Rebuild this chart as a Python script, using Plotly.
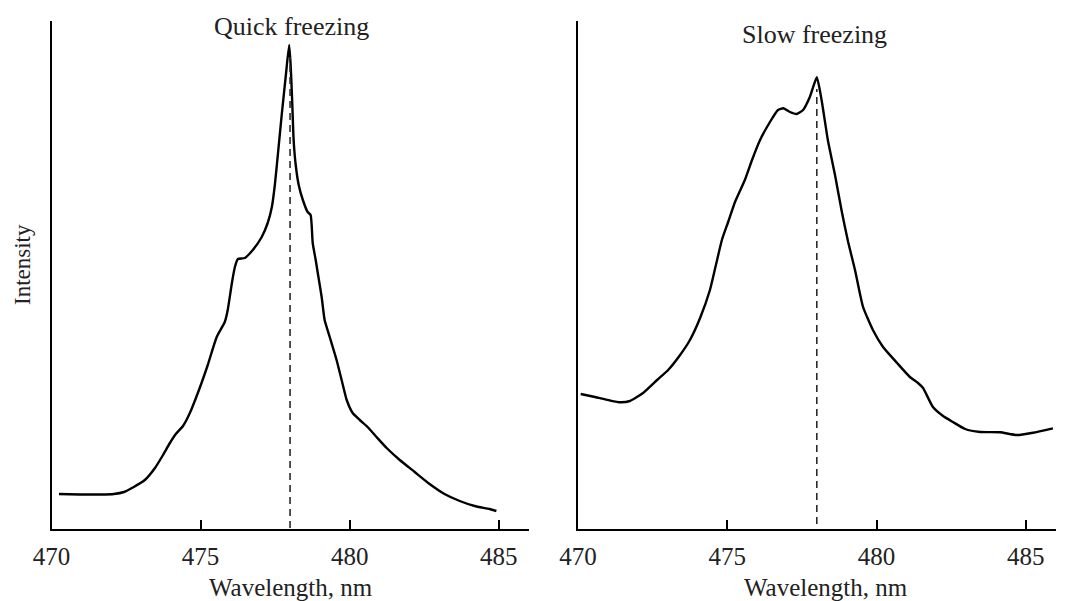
import plotly.graph_objects as go

# ---- data (wavelength in nm, intensity in arbitrary units) ----
quick_wl = [470.25, 470.95, 471.62, 472.09, 472.43, 472.76, 473.13, 473.47, 473.74, 473.97,
            474.17, 474.41, 474.64, 474.97, 475.24, 475.54, 475.81, 475.91, 476.05, 476.15,
            476.25, 476.48, 476.75, 477.05, 477.25, 477.39, 477.49, 477.59, 477.72, 477.86,
            477.97, 478.02, 478.07, 478.12, 478.19, 478.29, 478.43, 478.59, 478.69, 478.76,
            478.86, 478.93, 479.06, 479.16, 479.33, 479.56, 479.73, 479.90, 480.10, 480.34,
            480.60, 480.90, 481.24, 481.68, 482.18, 482.68, 483.18, 483.69, 484.19, 484.69,
            484.92]
quick_int = [35, 34.5, 34.5, 35, 37, 42, 49, 61, 74, 86,
             95, 103, 116, 141, 164, 192, 207, 219, 246, 262,
             270, 271, 279, 292, 306, 322, 344, 374, 414, 454,
             484, 464, 429, 389, 364, 344, 329, 317, 314, 286,
             269, 256, 232, 209, 192, 169, 149, 129, 116, 109,
             102, 92, 81, 69, 57, 45, 35, 28, 23, 20,
             18]

slow_wl = [470.09, 470.57, 471.07, 471.41, 471.74, 472.18, 472.65, 473.02, 473.42, 473.75,
           474.09, 474.42, 474.62, 474.82, 475.03, 475.26, 475.59, 475.83, 476.10, 476.43,
           476.70, 476.88, 477.10, 477.33, 477.54, 477.77, 478.00, 478.16, 478.37, 478.61,
           478.84, 479.05, 479.28, 479.55, 479.88, 480.22, 480.69, 481.12, 481.39, 481.56,
           481.89, 482.23, 482.56, 482.97, 483.47, 484.14, 484.70, 485.24, 485.91]
slow_int = [135, 132, 128.5, 126.7, 128, 136, 149, 159, 174, 189,
            211, 239, 264, 289, 307, 327, 349, 369, 389, 407,
            419, 420.7, 417, 415, 419, 432.3, 451.7, 429, 389, 354,
            317, 287, 259, 222, 199, 182, 166, 152, 146, 141,
            122, 113, 107, 100, 97, 96.7, 94, 96.3, 100.7]

peak_wl = 478.0
quick_peak_top = 472
slow_peak_top = 440

tick_vals = [470, 475, 480, 485]
tick_text = ["470", "475", "480", "485"]
x_range = [470, 486]
y_range = [0, 508]

titles = ["Quick freezing", "Slow freezing"]
x_title = "Wavelength, nm"
y_title = "Intensity"

W, H = 1066, 601
OFF = 8  # page body margin
FONT = "Liberation Serif"
TXT = "#222222"

fig = go.Figure()

line_style = dict(color="black", width=2.4, shape="spline", smoothing=0.5)
dash_style = dict(color="#2a2a2a", width=1.6, dash="7px,5px")

fig.add_trace(go.Scatter(x=quick_wl, y=quick_int, mode="lines", line=line_style,
                         xaxis="x", yaxis="y", showlegend=False, hoverinfo="skip"))
fig.add_trace(go.Scatter(x=[peak_wl, peak_wl], y=[1, quick_peak_top], mode="lines",
                         line=dash_style, xaxis="x", yaxis="y", showlegend=False))
fig.add_trace(go.Scatter(x=slow_wl, y=slow_int, mode="lines", line=line_style,
                         xaxis="x2", yaxis="y2", showlegend=False, hoverinfo="skip"))
fig.add_trace(go.Scatter(x=[peak_wl, peak_wl], y=[5, slow_peak_top], mode="lines",
                         line=dash_style, xaxis="x2", yaxis="y2", showlegend=False))

def px_x(p):
    return (p - OFF) / W

def px_y(p):
    return 1 - (p - OFF) / H

xaxis_common = dict(range=x_range, tickvals=tick_vals, ticktext=tick_text,
                    showline=True, linecolor="black", linewidth=2,
                    ticks="inside", ticklen=9, tickwidth=1.5, tickcolor="black",
                    showgrid=False, zeroline=False, ticklabelstandoff=4,
                    automargin=False,
                    tickfont=dict(family=FONT, size=25, color=TXT), fixedrange=True)
yaxis_common = dict(range=y_range, showline=True, linecolor="black", linewidth=2,
                    showticklabels=False, ticks="", showgrid=False, zeroline=False,
                    automargin=False, fixedrange=True)

fig.update_layout(
    template="none",
    width=W, height=H,
    margin=dict(l=0, r=0, t=0, b=0, pad=0),
    paper_bgcolor="white", plot_bgcolor="white",
    xaxis=dict(domain=[px_x(51.5), px_x(528.6)], anchor="y", **xaxis_common),
    yaxis=dict(domain=[px_y(529), px_y(21)], anchor="x", **yaxis_common),
    xaxis2=dict(domain=[px_x(578), px_x(1055.6)], anchor="y2", **xaxis_common),
    yaxis2=dict(domain=[px_y(529), px_y(21)], anchor="x2", **yaxis_common),
)

annotations = [
    dict(text=titles[0], x=px_x(291), y=px_y(27), xref="paper", yref="paper",
         showarrow=False, xanchor="center", yanchor="middle",
         font=dict(family=FONT, size=26, color=TXT)),
    dict(text=titles[1], x=px_x(814), y=px_y(35), xref="paper", yref="paper",
         showarrow=False, xanchor="center", yanchor="middle",
         font=dict(family=FONT, size=26, color=TXT)),
    dict(text=x_title, x=px_x(291), y=px_y(587), xref="paper", yref="paper",
         showarrow=False, xanchor="center", yanchor="middle",
         font=dict(family=FONT, size=25, color=TXT)),
    dict(text=x_title, x=px_x(826), y=px_y(587), xref="paper", yref="paper",
         showarrow=False, xanchor="center", yanchor="middle",
         font=dict(family=FONT, size=25, color=TXT)),
    dict(text=y_title, x=px_x(22), y=px_y(265), xref="paper", yref="paper",
         showarrow=False, xanchor="center", yanchor="middle", textangle=-90,
         font=dict(family=FONT, size=23, color=TXT)),
]
fig.update_layout(annotations=annotations)

fig.write_html("out.html", config={"displayModeBar": False})
